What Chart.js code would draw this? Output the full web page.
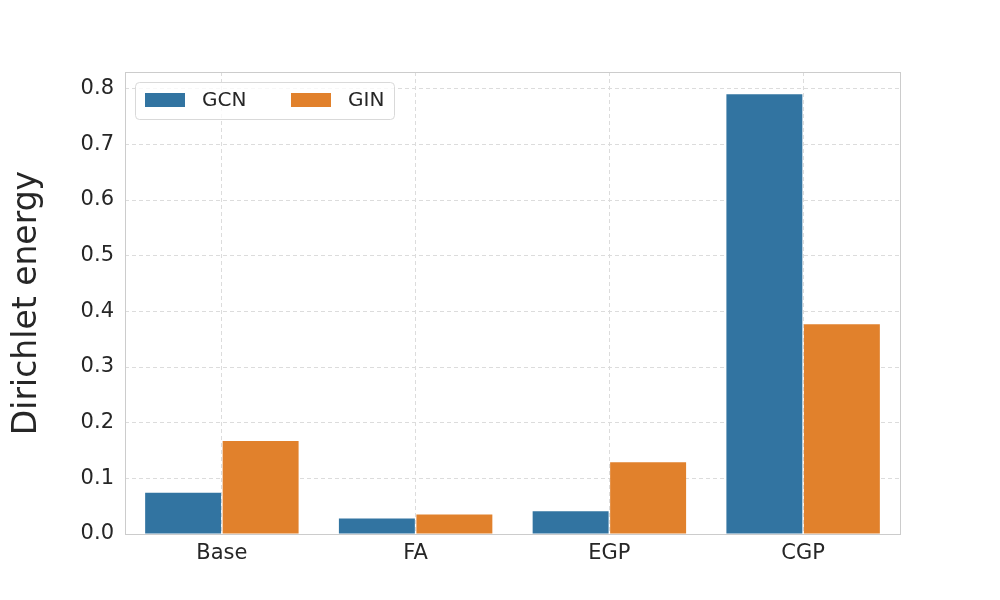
<!DOCTYPE html>
<html>
<head>
<meta charset="utf-8">
<script src="https://cdn.jsdelivr.net/npm/chart.js@4"></script>
<style>
  html, body { margin: 0; padding: 0; background: #fff; }
  #wrap { width: 1000px; height: 600px; }
</style>
</head>
<body>
<div id="wrap"><canvas id="energyChart" width="1000" height="600"></canvas></div>
<script>
  const categories = ['Base', 'FA', 'EGP', 'CGP'];
  const gcnValues = [0.074, 0.028, 0.041, 0.790];
  const ginValues = [0.167, 0.035, 0.129, 0.377];
  const yTicks = [0.0, 0.1, 0.2, 0.3, 0.4, 0.5, 0.6, 0.7, 0.8];

  const textColor = '#262626';
  const gridColor = '#dcdcdc';

  // frame round the plot plus the legend box inside it
  const framePlugin = {
    id: 'frame',
    afterDraw(chart) {
      const { ctx, chartArea: a } = chart;
      ctx.save();
      ctx.strokeStyle = '#cccccc';
      ctx.lineWidth = 1;
      ctx.strokeRect(a.left + 0.5, a.top + 0.5, a.right - a.left, a.bottom - a.top);

      // legend
      const x0 = a.left + 10, y0 = a.top + 10, w = 259, h = 37;
      ctx.fillStyle = 'rgba(255,255,255,0.8)';
      ctx.strokeStyle = '#d9d9d9';
      ctx.beginPath();
      ctx.roundRect(x0 + 0.5, y0 + 0.5, w, h, 4);
      ctx.fill();
      ctx.stroke();
      ctx.font = '20px "DejaVu Sans"';
      ctx.textBaseline = 'middle';
      const offsets = [10, 156];
      chart.data.datasets.forEach((ds, i) => {
        const sx = x0 + offsets[i];
        ctx.fillStyle = ds.backgroundColor;
        ctx.fillRect(sx, y0 + 11, 40, 14);
        ctx.fillStyle = textColor;
        ctx.fillText(ds.label, sx + 57, y0 + 19);
      });
      ctx.restore();
    }
  };

  const ctx = document.getElementById('energyChart').getContext('2d');
  new Chart(ctx, {
    type: 'bar',
    data: {
      labels: categories,
      datasets: [
        { label: 'GCN', data: gcnValues, backgroundColor: '#3274a1', borderWidth: 0 },
        { label: 'GIN', data: ginValues, backgroundColor: '#e1812c', borderWidth: 0 }
      ]
    },
    options: {
      responsive: false,
      animation: false,
      layout: { padding: { top: 72, right: 100, left: 0, bottom: 0 } },
      datasets: { bar: { categoryPercentage: 0.8, barPercentage: 0.98 } },
      plugins: {
        legend: { display: false },
        tooltip: { enabled: false }
      },
      scales: {
        x: {
          grid: { display: true, offset: false, color: gridColor, drawTicks: false, lineWidth: 1 },
          border: { display: false, dash: [4, 3] },
          ticks: { color: textColor, font: { family: 'DejaVu Sans', size: 21 }, padding: 7 },
          afterFit(scale) { scale.height = 66; }
        },
        y: {
          min: 0,
          max: 0.83,
          afterBuildTicks(scale) { scale.ticks = yTicks.map(v => ({ value: v })); },
          grid: { color: gridColor, drawTicks: false, lineWidth: 1 },
          border: { display: false, dash: [4, 3] },
          ticks: {
            color: textColor,
            font: { family: 'DejaVu Sans', size: 21 },
            padding: 11,
            callback: v => Number(v).toFixed(1)
          },
          title: {
            display: true,
            text: 'Dirichlet energy',
            color: textColor,
            font: { family: 'DejaVu Sans', size: 33 },
            padding: { top: 8, bottom: 0 }
          },
          afterFit(scale) { scale.width = 125; }
        }
      }
    },
    plugins: [framePlugin]
  });
</script>
</body>
</html>
